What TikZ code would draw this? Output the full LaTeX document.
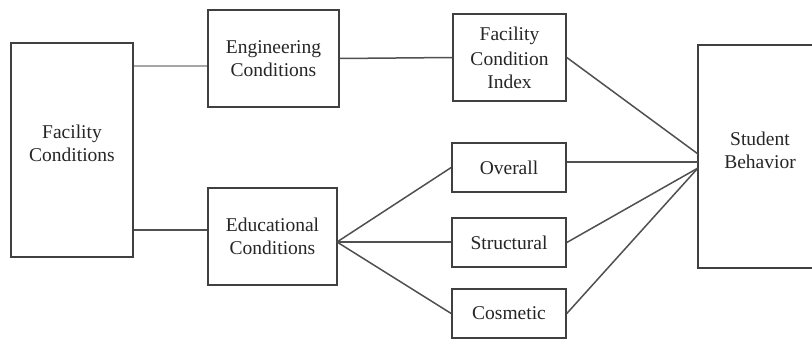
\documentclass[tikz,border=0pt]{standalone}
\usepackage{fontspec}
\setmainfont{Liberation Serif}
\begin{document}
\begin{tikzpicture}[x=1pt,y=-1pt,
  box/.style={draw=boxgray, line width=1.6pt, rectangle, inner sep=0pt, align=center,
    font=\fontsize{19.5}{23}\selectfont, text=black!85},
  conn/.style={draw=linegray, line width=1.5pt},
  light/.style={draw=black!35, line width=1.8pt}]
\definecolor{boxgray}{HTML}{404040}
\definecolor{linegray}{HTML}{505050}
\useasboundingbox (0,0) rectangle (812,340);
\clip (0,0) rectangle (812,340);
\fill[white] (0,0) rectangle (812,340);
\node[box, minimum width=122pt, minimum height=214pt] (fc) at (72,150) {Facility\\Conditions\\[-10pt]};
\node[box, minimum width=131pt, minimum height=97pt] (eng) at (273.5,58.5) {Engineering\\Conditions};
\node[box, minimum width=113pt, minimum height=87pt] (fci) at (509.5,57.5) {Facility\\[2pt]Condition\\Index};
\node[box, minimum width=129pt, minimum height=97pt] (edu) at (272.5,236.5) {Educational\\Conditions};
\node[box, minimum width=114pt, minimum height=49pt] (ov) at (509,167.5) {Overall};
\node[box, minimum width=114pt, minimum height=49pt] (st) at (509,242.5) {Structural};
\node[box, minimum width=114pt, minimum height=49pt] (co) at (509,313.5) {Cosmetic};
\node[box, minimum width=124pt, minimum height=223pt] (sb) at (760,156.5) {Student\\Behavior\\[-10pt]};
\coordinate (sbtop) at (698,154);
\coordinate (sbmid) at (698,162);
\coordinate (sblow) at (698,168);
\coordinate (edout) at (337,242);
\draw[light] (fc.east |- 0,66) -- (eng.west |- 0,66);
\draw[conn] (fc.east |- 0,230) -- (edu.west |- 0,230);
\draw[conn] (eng.east) -- (fci.west);
\draw[conn] (edout) -- (ov.west);
\draw[conn] (edout) -- (st.west |- edout);
\draw[conn] (edout) -- (co.west);
\draw[conn] (fci.east) -- (sbtop);
\draw[conn] (ov.east |- sbmid) -- (sbmid);
\draw[conn] (st.east) -- (sblow);
\draw[conn] (co.east) -- (sblow);
\end{tikzpicture}
\end{document}
